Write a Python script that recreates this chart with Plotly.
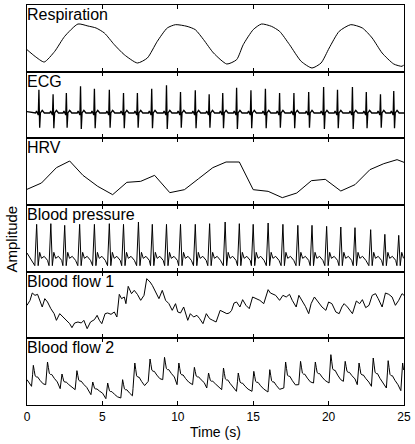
import plotly.graph_objects as go
from plotly.subplots import make_subplots

# ---------------- data ----------------
resp_t = [0.00, 0.53, 1.14, 1.84, 2.50, 3.38, 4.04, 4.58, 5.13, 5.79, 6.45, 7.32, 7.98, 8.64, 9.30, 9.85,
          10.61, 11.16, 11.71, 12.37, 13.25, 13.90, 14.34, 15.00, 15.55, 16.21, 16.75, 17.41, 18.18, 18.90,
          19.50, 20.04, 20.70, 21.47, 22.24, 22.89, 23.55, 24.32, 24.87, 25.00]
resp_v = [33, 23, 14.5, 30.5, 53, 71.5, 68.5, 65.5, 58, 40.5, 25.5, 13, 20.5, 45.5, 65.5, 70.5,
          68, 63, 48, 28, 11.5, 18, 40.5, 63, 71.5, 68, 60.5, 40.5, 15.5, 5.5,
          13, 35.5, 60.5, 70.5, 65.5, 50.5, 28, 11.5, 8, 10.5]

ecg_beats = [0.79, 1.73, 2.61, 3.55, 4.47, 5.46, 6.40, 7.32, 8.27, 9.25, 10.18, 11.16, 12.08, 12.98,
             13.90, 14.85, 15.81, 16.75, 17.70, 18.68, 19.67, 20.59, 21.58, 22.50, 23.44, 24.32]
ecg_r = [73, 66, 68, 78, 74.5, 73, 68, 68, 74.5, 79.5, 69.5, 72, 66, 68,
         76, 72, 74.5, 68, 68, 69.5, 77, 73, 77, 69.5, 66, 71]
ecg_s = [16, 15, 16, 14, 15, 16, 15, 16, 15, 14, 16, 15, 16, 15,
         14, 15, 15, 16, 15, 16, 14, 15, 14, 15, 16, 15]
ecg_base = 38

hrv_t = [0.00, 0.96, 1.95, 2.83, 3.71, 4.69, 5.68, 6.62, 7.54, 8.46, 9.47, 10.44, 11.38, 12.32,
         13.20, 14.08, 15.00, 15.99, 16.93, 17.89, 18.86, 19.78, 20.81, 21.75, 22.74, 23.66, 24.54, 25.00]
hrv_v = [23.5, 33, 56, 66, 44.5, 28, 15.5, 34, 35.5, 44.5, 18.5, 23, 39.5, 56,
         64.5, 64.5, 23, 20.5, 11, 18, 36.5, 38.5, 21, 30.5, 53, 62, 68, 64]

bp_beats = [0.64, 1.58, 2.50, 3.49, 4.47, 5.46, 6.40, 7.39, 8.31, 9.25, 10.18, 11.16, 12.11, 13.14,
            14.08, 15.00, 15.99, 16.97, 17.96, 18.90, 19.87, 20.81, 21.75, 22.79, 23.73, 24.65]
bp_peak = [71, 72, 69.5, 71, 71, 72, 71, 74.5, 71, 71, 71, 71, 72, 74.5,
           72, 71, 73, 71, 69.5, 69.5, 68, 67, 66, 63, 56, 54.5]

bf1_t = [0.00, 0.20, 0.35, 0.53, 0.70, 0.86, 1.01, 1.18, 1.36, 1.58, 1.80, 1.95, 2.17, 2.39, 2.61, 2.83,
         2.98, 3.16, 3.38, 3.60, 3.77, 3.99, 4.21, 4.47, 4.65, 4.80, 4.96, 5.18, 5.35, 5.57, 5.79, 5.96,
         6.12, 6.27, 6.45, 6.56, 6.71, 6.93, 7.11, 7.32, 7.54, 7.76, 7.94, 8.16, 8.31, 8.53, 8.75, 8.97,
         9.19, 9.41, 9.63, 9.85, 10.00, 10.18, 10.39, 10.66, 10.83, 11.05, 11.27, 11.45, 11.67, 11.89,
         12.11, 12.32, 12.54, 12.81, 13.03, 13.25, 13.42, 13.57, 13.73, 13.90, 14.12, 14.30, 14.52, 14.74,
         14.96, 15.18, 15.44, 15.70, 15.99, 16.14, 16.32, 16.49, 16.75, 16.97, 17.19, 17.41, 17.59, 17.85,
         18.03, 18.25, 18.46, 18.68, 18.84, 19.06, 19.28, 19.56, 19.82, 20.00, 20.22, 20.48, 20.70, 20.88,
         21.03, 21.25, 21.58, 21.84, 22.06, 22.24, 22.46, 22.68, 22.89, 23.11, 23.29, 23.55, 23.77, 23.99,
         24.21, 24.43, 24.65, 24.87, 25.00]
bf1_v = [49.5, 57, 68, 64.5, 66, 54.5, 47, 59.5, 54.5, 44.5, 37, 27, 37, 32, 27, 22,
         16, 23, 24.5, 23, 27, 14.5, 24.5, 28, 34.5, 27, 22, 37, 38, 36, 39.5, 32,
         66, 59.5, 62, 52, 78, 67, 72, 66, 57, 64.5, 89.5, 84.5, 79.5, 69.5, 59.5, 72,
         57, 52, 42, 52, 39.5, 38, 47, 27, 37, 32, 34.5, 29.5, 22, 37,
         29.5, 27, 24.5, 42, 39.5, 37, 38, 42, 53, 54.5, 47, 58, 49.5, 44.5,
         62, 59.5, 57, 52, 73, 68, 66, 64.5, 57, 64.5, 62, 66, 57, 47,
         64.5, 57, 48, 37, 52, 62, 54.5, 47, 42, 54.5, 52, 39.5, 37, 47,
         52, 47, 37, 56, 52, 58, 46, 49.5, 64.5, 67, 59.5, 47, 68, 66,
         62, 49.5, 57, 67, 64.5]

bf2_beats = [0.42, 1.36, 2.32, 3.31, 4.36, 5.35, 6.34, 7.15, 8.16, 9.12, 10.07, 11.10, 12.04, 13.03,
             14.01, 15.04, 16.10, 17.15, 18.14, 19.12, 20.15, 21.10, 22.02, 22.96, 23.95, 24.91]
bf2_peak = [59.5, 64.5, 46.5, 51.5, 34.5, 33, 38, 63, 69, 71.5, 63, 56.5, 48, 55.5,
            48, 50.5, 53, 64.5, 65.5, 64.5, 75.5, 65.5, 63, 70.5, 66.5, 63]
bf2_trough = [28, 30.5, 24.5, 23, 15.5, 9.5, 10.5, 24.5, 35.5, 38, 30.5, 30.5, 25.5, 23,
              20.5, 20.5, 19.5, 25.5, 30.5, 33, 33, 35.5, 30.5, 28, 25.5, 21.5]

panel_names = ["Respiration", "ECG", "HRV", "Blood pressure", "Blood flow 1", "Blood flow 2"]
x_ticks = [0, 5, 10, 15, 20, 25]

# ---------------- build beat-wise waveforms from the read beats ----------------
ecg_t, ecg_v = [0.0], [ecg_base + 2]
for t, r, s in zip(ecg_beats, ecg_r, ecg_s):
    for dt, v in [(-0.22, ecg_base), (-0.16, ecg_base + 3), (-0.10, ecg_base), (-0.04, ecg_base - 3),
                  (0.0, r), (0.05, s), (0.10, ecg_base), (0.22, ecg_base + 4), (0.36, ecg_base)]:
        if 0 <= t + dt <= 25:
            ecg_t.append(t + dt); ecg_v.append(v)
ecg_t.append(25.0); ecg_v.append(ecg_base)

bp_t, bp_v = [0.0], [28]
for t, p in zip(bp_beats, bp_peak):
    for dt, v in [(-0.12, 9), (0.0, p), (0.10, 9), (0.20, 29), (0.32, 20), (0.50, 23), (0.72, 17)]:
        if 0 <= t + dt <= 25:
            bp_t.append(t + dt); bp_v.append(v)

bf2_t, bf2_v = [0.0], [38]
for t, p, lo in zip(bf2_beats, bf2_peak, bf2_trough):
    for dt, f in [(-0.12, 0.0), (-0.05, 0.55), (0.0, 1.0), (0.06, 0.75), (0.12, 0.5), (0.20, 0.45),
                  (0.28, 0.45), (0.45, 0.28), (0.65, 0.12)]:
        if 0 <= t + dt <= 25:
            bf2_t.append(t + dt); bf2_v.append(lo + f * (p - lo))

series = [(resp_t, resp_v, "spline", 1.0), (ecg_t, ecg_v, "linear", 1.3), (hrv_t, hrv_v, "linear", 1.0),
          (bp_t, bp_v, "linear", 1.0), (bf1_t, bf1_v, "linear", 1.0), (bf2_t, bf2_v, "linear", 1.0)]

# ---------------- figure ----------------
fig = make_subplots(rows=6, cols=1, shared_xaxes=True, vertical_spacing=0)
font_name = "Liberation Sans, Arial, sans-serif"
for i, (xs, ys, shape, w) in enumerate(series):
    fig.add_trace(go.Scatter(x=xs, y=ys, mode="lines",
                             line=dict(color="black", width=w, shape=shape, smoothing=0.6),
                             showlegend=False, hoverinfo="skip"), row=i + 1, col=1)
    suffix = "" if i == 0 else str(i + 1)
    fig.add_annotation(text=panel_names[i], xref=f"x{suffix} domain", yref=f"y{suffix} domain",
                       x=0.0, y=1.0, xanchor="left", yanchor="top", showarrow=False,
                       xshift=-1, yshift=0, borderpad=0,
                       font=dict(family=font_name, size=16, color="black"))

fig.update_xaxes(range=[0, 25], tickvals=x_ticks, ticks="inside", ticklen=4, tickwidth=1,
                 tickcolor="black", showline=True, linecolor="black", linewidth=1.3,
                 mirror="ticks", showgrid=False, zeroline=False,
                 tickfont=dict(family=font_name, size=12, color="black"))
fig.update_yaxes(range=[0, 100], showticklabels=False, ticks="", showline=True,
                 linecolor="black", linewidth=1.3, mirror=True, showgrid=False, zeroline=False)

fig.add_annotation(text="Time (s)", xref="paper", yref="paper", x=0.5, y=-0.068,
                   xanchor="center", yanchor="middle", showarrow=False,
                   font=dict(family=font_name, size=14, color="black"))
fig.add_annotation(text="Amplitude", xref="paper", yref="paper", x=-0.04, y=0.416,
                   xanchor="center", yanchor="middle", textangle=-90, showarrow=False,
                   font=dict(family=font_name, size=15, color="black"))

fig.update_layout(width=415, height=444, margin=dict(l=27, r=8, t=4, b=39),
                  paper_bgcolor="white", plot_bgcolor="white")

fig.write_html("out.html")
